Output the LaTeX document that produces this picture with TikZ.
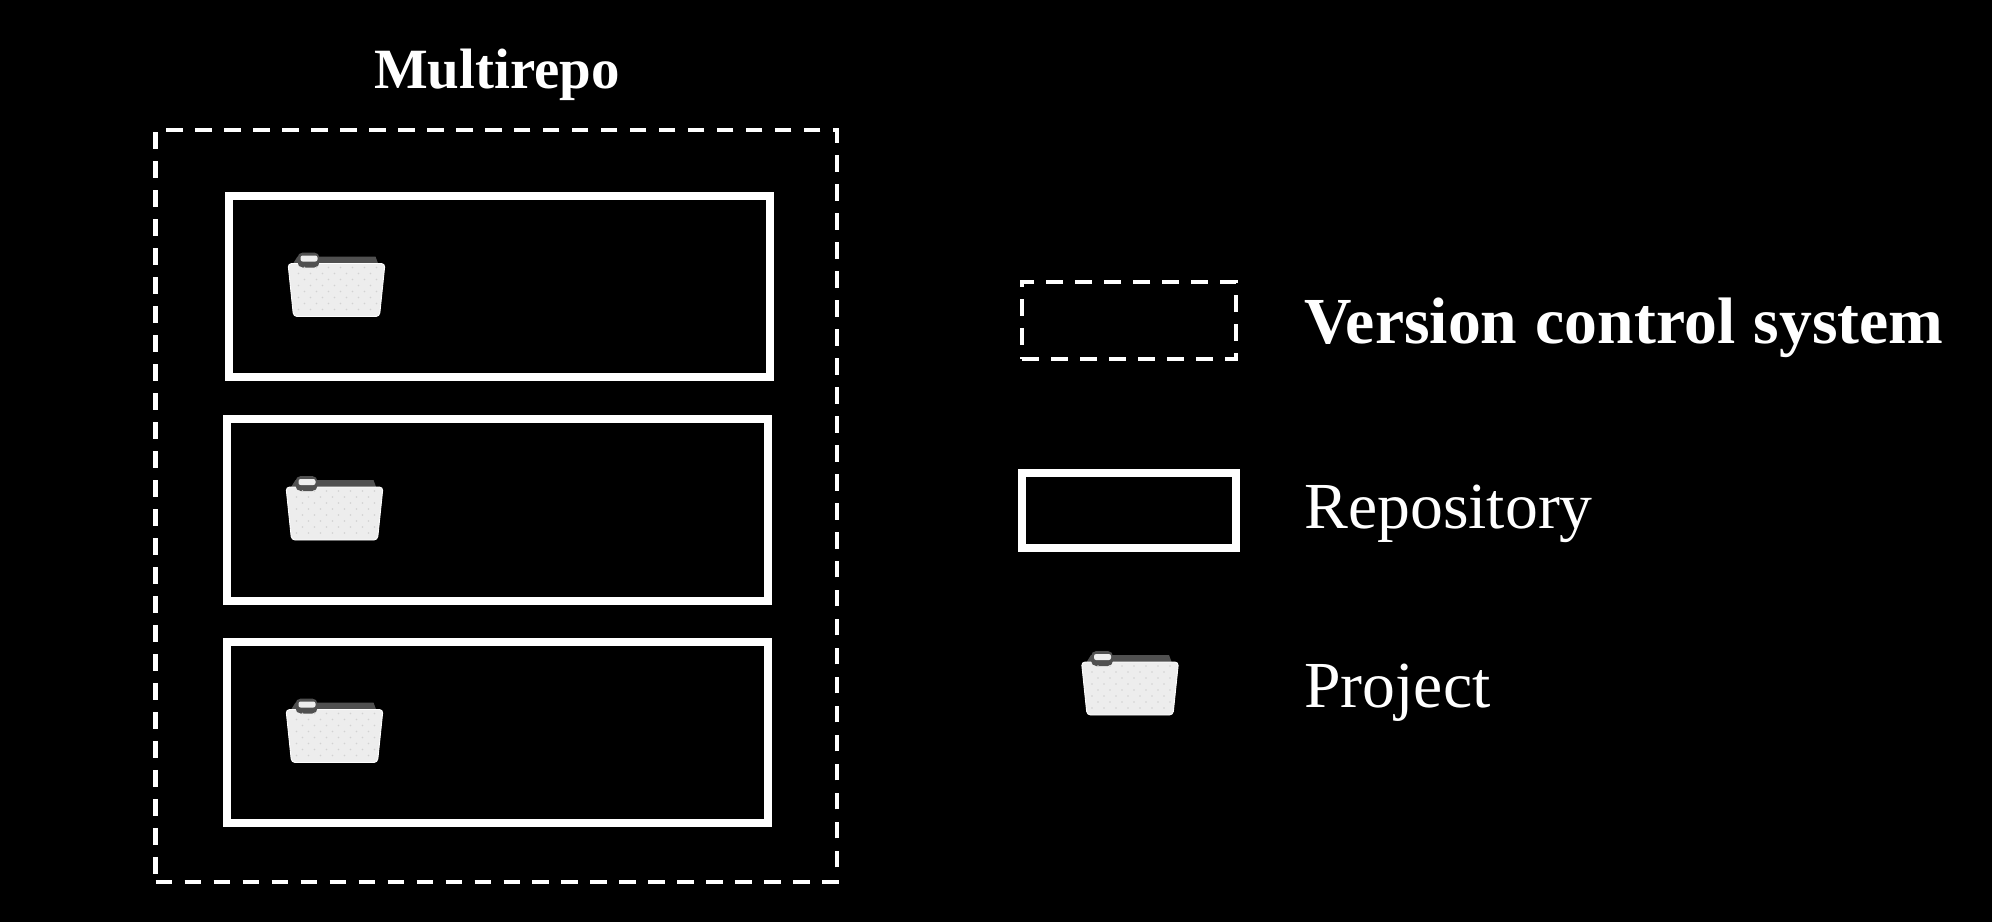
\documentclass[tikz,border=0pt]{standalone}
\usepackage{fontspec}
\setmainfont{Liberation Serif}
\definecolor{folderbody}{HTML}{EDEDED}
\definecolor{folderdot}{HTML}{D2D2D2}
\definecolor{foldertab}{HTML}{505050}
\tikzset{
  repobox/.style={draw=white, line width=0.16cm, minimum width=10.84cm, minimum height=3.64cm, inner sep=0pt},
  vcsbox/.style={draw=white, line width=0.085cm, dash pattern=on 0.334cm off 0.246cm, inner sep=0pt},
  legendtext/.style={text=white, anchor=base west, inner sep=0pt, font=\fontsize{37.4}{40}\selectfont},
  pics/folder/.style={code={
    \fill[foldertab] (-44,-21) -- (-39,-29) -- (39,-29) -- (42,-21) -- cycle;
    \fill[folderbody, draw=white, line width=0.5pt, rounded corners=2pt] (-48.5,-22) -- (48.5,-22) -- (43,31) -- (-43,31) -- cycle;
    \fill[foldertab, rounded corners=3pt] (-39,-33) rectangle (-17,-18);
    \fill[folderbody, rounded corners=1.2pt] (-36,-30) rectangle (-19,-24);
    % speckle on the folder
    \foreach \a in {-38,-26,...,38} {
      \foreach \b in {-12,0,12,24} {
        \fill[folderdot] (\a,\b) circle (0.9);
        \fill[folderdot] (\a+6,\b-6) circle (0.9);
      }
    }
  }}
}
\begin{document}
\begin{tikzpicture}[x=0.02cm, y=-0.02cm]
  \useasboundingbox (0,0) rectangle (1992,921);
  \fill[black] (-5,-5) rectangle (1997,926);
  \node[text=white, font=\fontsize{32.4}{36}\selectfont\bfseries] (title) at (497,75) {Multirepo};
  % version control system
  \node[vcsbox, minimum width=13.63cm, minimum height=15.04cm] (vcs) at (496.25,506) {};
  % repositories with one project each
  \foreach \xpos/\ypos [count=\n] in {499.5/286.5, 497.5/510, 497.5/732.5} {
    \node[repobox] (repo\n) at (\xpos,\ypos) {};
    \pic (folder\n) at (\xpos-163,\ypos-1) {folder};
  }
  % legend
  \node[vcsbox, minimum width=4.28cm, minimum height=1.54cm] (legvcs) at (1129,320.5) {};
  \node[repobox, minimum width=4.28cm, minimum height=1.5cm] (legrepo) at (1129,510.5) {};
  \pic (legfolder) at (1130,684) {folder};
  \node[legendtext, font=\fontsize{37.4}{40}\selectfont\bfseries] (vcstext) at (1304,343) {\spaceskip=10.5pt Version control system};
  \node[legendtext] (repotext) at (1304,528) {Repository};
  \node[legendtext] (projtext) at (1304,707) {Project};
\end{tikzpicture}
\end{document}
